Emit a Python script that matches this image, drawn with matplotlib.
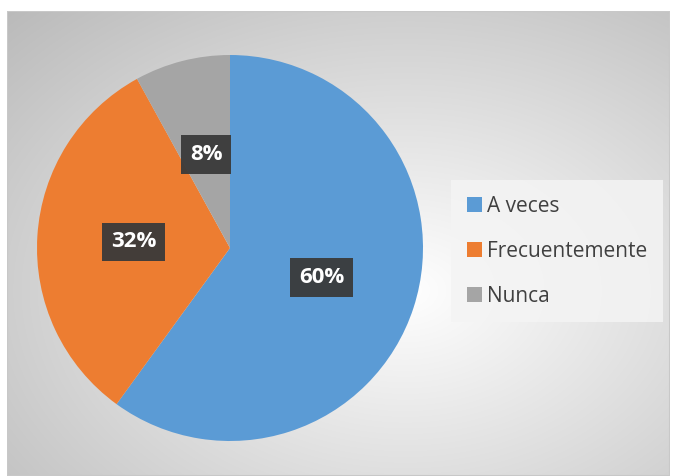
import numpy as np
import matplotlib.pyplot as plt
from matplotlib.patches import Rectangle

categories = ["A veces", "Frecuentemente", "Nunca"]
values = [60, 32, 8]
colors = ["#5B9BD5", "#ED7D31", "#A5A5A5"]

W, H = 673, 476
fig = plt.figure(figsize=(W / 100, H / 100), dpi=100)
fig.patch.set_facecolor("white")

# background panel with radial gradient
bg = fig.add_axes([7 / W, 0, (670 - 7) / W, (476 - 11) / H])
bg.set_axis_off()
ny, nx = 300, 420
yy, xx = np.mgrid[0:ny, 0:nx]
cx, cy = nx * 0.6, ny * 0.6
d = np.sqrt(((xx - cx) / nx) ** 2 + ((yy - cy) / ny) ** 2)
d = d / d.max()
val = 1.0 - 0.27 * d
img = np.dstack([val, val, val])
bg.imshow(img, aspect="auto", extent=[0, 1, 0, 1], interpolation="bilinear")
bg.add_patch(Rectangle((0, 0), 1, 1, transform=bg.transAxes, fill=False,
                       edgecolor="#c8c8c8", linewidth=1.5))

# pie
cxp, cyp, r = 230, 248, 193
ax = fig.add_axes([(cxp - r) / W, (H - cyp - r) / H, 2 * r / W, 2 * r / H])
wedges, texts, autotexts = ax.pie(
    values, colors=colors, startangle=90, counterclock=False,
    autopct="%1.0f%%", pctdistance=0.5,
    wedgeprops=dict(linewidth=0),
    textprops=dict(color="white", fontsize=16, fontweight="bold",
                   family=["Open Sans", "DejaVu Sans"]))
for t in autotexts:
    t.set_bbox(dict(boxstyle="square,pad=0.4", facecolor="#3a3a3a",
                    edgecolor="none", alpha=0.95))
ax.set_aspect("equal")
ax.set_xlim(-1, 1)
ax.set_ylim(-1, 1)
ax.set_axis_off()

# legend
leg = fig.legend(wedges, categories, loc="upper left",
                 bbox_to_anchor=(451 / W, 1 - 180 / H),
                 frameon=True, fancybox=False, framealpha=0.85,
                 edgecolor="none", facecolor="#f4f4f4",
                 prop=dict(family=["Open Sans", "DejaVu Sans"], size=15),
                 labelcolor="#404040", handlelength=0.75, handleheight=0.75,
                 handletextpad=0.25, labelspacing=1.15, borderpad=0.75,
                 borderaxespad=0)
fig.savefig("out.png", dpi=100)
